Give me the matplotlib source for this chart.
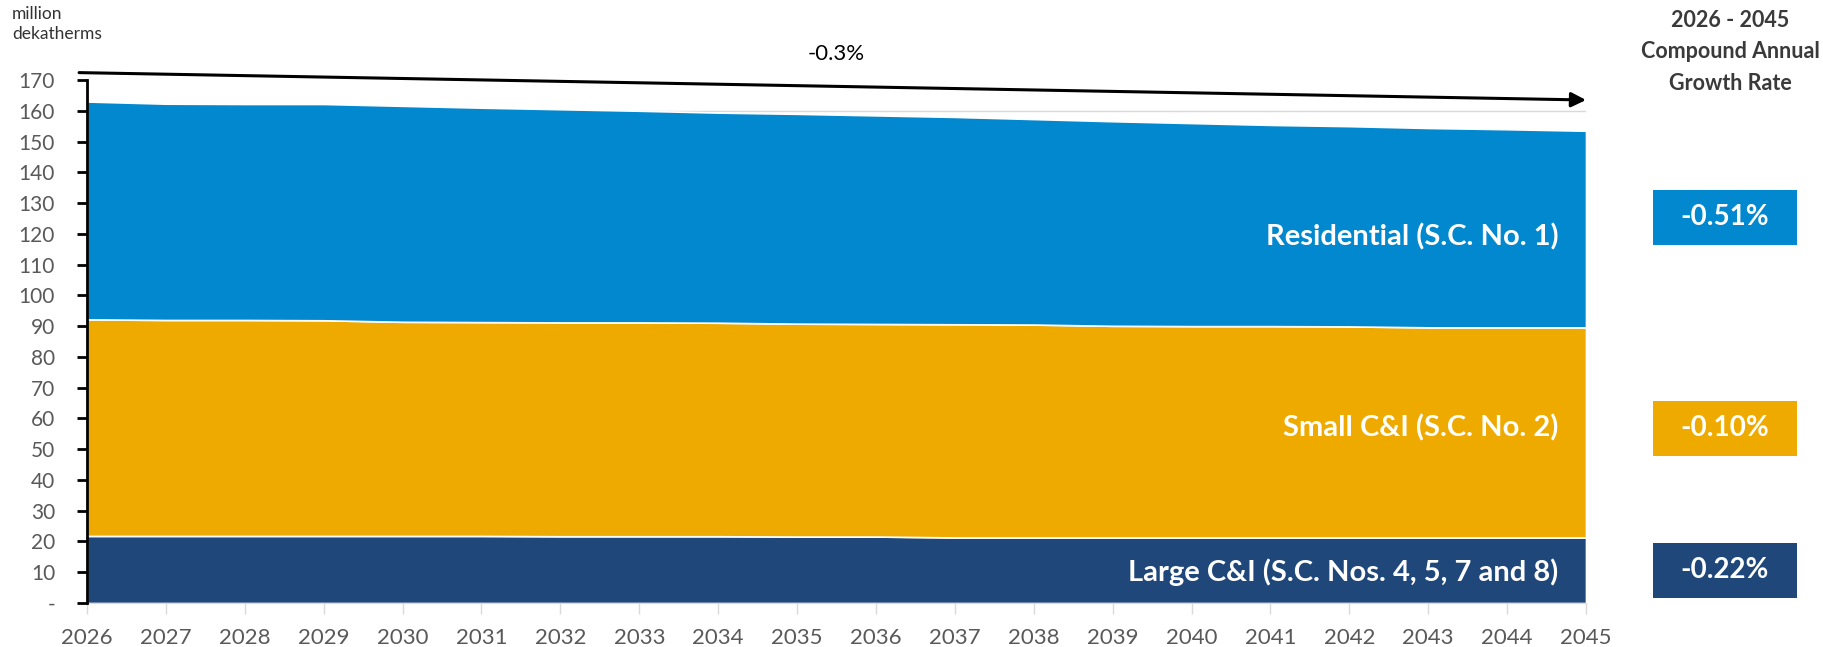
import numpy as np
import matplotlib as mpl
import matplotlib.pyplot as plt
from matplotlib.patches import Rectangle

years = list(range(2026, 2046))
large_ci = [21.8, 21.8, 21.8, 21.8, 21.8, 21.8, 21.7, 21.7, 21.7, 21.6,
            21.6, 21.3, 21.3, 21.3, 21.3, 21.3, 21.3, 21.3, 21.3, 21.3]
small_ci = [70.4, 70.2, 70.2, 70.1, 69.6, 69.5, 69.5, 69.5, 69.4, 69.2,
            69.1, 69.3, 69.2, 68.8, 68.7, 68.7, 68.6, 68.3, 68.3, 68.3]
residential = [70.8, 70.3, 70.2, 70.3, 70.2, 69.7, 69.3, 68.8, 68.3, 68.2,
               67.8, 67.4, 66.8, 66.5, 66.0, 65.4, 65.1, 64.8, 64.4, 63.9]
series_labels = ['Large C&I (S.C. Nos. 4, 5, 7 and 8)', 'Small C&I (S.C. No. 2)',
                 'Residential (S.C. No. 1)']
cagr = ['-0.22%', '-0.10%', '-0.51%']
total_cagr = '-0.3%'
yticks = list(range(0, 171, 10))
ytick_labels = ['-'] + [str(v) for v in yticks[1:]]

navy = '#1f477a'
gold = '#efaa00'
blue = '#0288cf'
colors = [navy, gold, blue]

mpl.rcParams['font.family'] = ['Lato', 'DejaVu Sans']

W, H = 1824, 647
fig = plt.figure(figsize=(W / 100, H / 100), dpi=100)
ax = fig.add_axes([87 / W, 1 - 603 / H, (1586 - 87) / W, (603 - 80) / H])

ax.stackplot(years, large_ci, small_ci, residential, colors=colors,
             edgecolor='white', linewidth=1.2, zorder=2)

ax.set_xlim(years[0], years[-1])
ax.set_ylim(0, 170)
ax.set_yticks(yticks)
ax.set_yticklabels(ytick_labels, fontsize=15, color='#595959')
ax.set_xticks(years)
ax.set_xticklabels([str(y) for y in years], fontsize=16, color='#595959')
ax.tick_params(axis='y', length=7, width=2, color='black', pad=16)
ax.tick_params(axis='x', length=8, width=1, color='#d9d9d9', pad=10)
ax.grid(axis='y', color='#d9d9d9', linewidth=1, zorder=0)
ax.get_ygridlines()[-1].set_visible(False)
ax.set_axisbelow(True)
for s in ['top', 'right']:
    ax.spines[s].set_visible(False)
ax.spines['left'].set_color('black')
ax.spines['left'].set_linewidth(2)
ax.spines['left'].set_zorder(3)
ax.spines['bottom'].set_color('#d9d9d9')

# overall trend arrow
ax.annotate('', xy=(years[-1], 163.5), xytext=(years[0] - 0.1, 172.4),
            arrowprops=dict(arrowstyle='-|>', color='black', lw=2.2,
                            mutation_scale=22, shrinkA=0, shrinkB=0),
            annotation_clip=False)
ax.text(2035.5, 178.3, total_cagr, fontsize=16, color='black',
        ha='center', va='center', clip_on=False)

fig.text(12 / W, 1 - 24 / H, 'million\ndekatherms', fontsize=12.5,
         color='#333333', ha='left', va='center', linespacing=1.25)

# series labels inside the areas
label_y = [10, 57, 119]
for lab, y in zip(series_labels, label_y):
    ax.text(2044.65, y, lab, fontsize=21, fontweight='bold', color='white',
            ha='right', va='center')

# CAGR panel
fig.text(1730 / W, 1 - 52 / H, '2026 - 2045\nCompound Annual\nGrowth Rate',
         fontsize=15.5, fontweight='bold', color='#3a3a3a', ha='center',
         va='center', linespacing=1.6)
box_y = [570, 428, 217]
bw, bh = 144, 55
for val, c, y in zip(cagr, colors, box_y):
    fig.patches.append(Rectangle(((1725 - bw / 2) / W, 1 - (y + bh / 2) / H),
                                 bw / W, bh / H, transform=fig.transFigure,
                                 fc=c, ec='none', figure=fig))
    fig.text(1725 / W, 1 - y / H, val, fontsize=20, fontweight='bold',
             color='white', ha='center', va='center')

plt.savefig('out.png', dpi=100)
